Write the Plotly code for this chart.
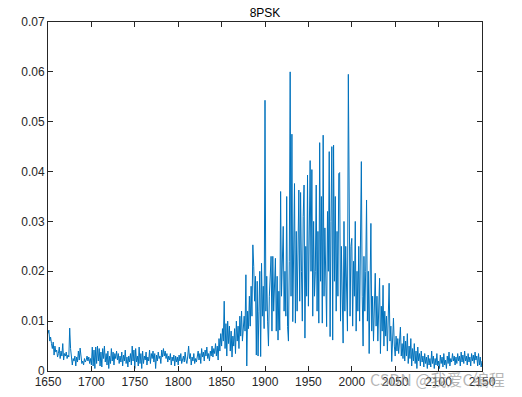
import plotly.graph_objects as go

x_values = list(range(1650, 2151))

y_values = [
    # 1650-1659
    0.0075, 0.0082, 0.0060, 0.0068, 0.0055, 0.0045, 0.0058, 0.0032, 0.0050, 0.0038,
    # 1660
    0.0042, 0.0028, 0.0035, 0.0048, 0.0025, 0.0040, 0.0030, 0.0055, 0.0022, 0.0035,
    # 1670
    0.0030, 0.0038, 0.0025, 0.0032, 0.0028, 0.0086, 0.0045, 0.0030, 0.0012, 0.0025,
    # 1680
    0.0020, 0.0030, 0.0010, 0.0028, 0.0018, 0.0040, 0.0022, 0.0046, 0.0025, 0.0015,
    # 1690
    0.0020, 0.0012, 0.0025, 0.0018, 0.0022, 0.0030, 0.0020, 0.0028, 0.0015, 0.0025,
    # 1700
    0.0012, 0.0048, 0.0010, 0.0042, 0.0005, 0.0048, 0.0015, 0.0050, 0.0020, 0.0045,
    # 1710
    0.0010, 0.0038, 0.0008, 0.0045, 0.0025, 0.0050, 0.0018, 0.0035, 0.0012, 0.0040,
    # 1720
    0.0005, 0.0030, 0.0015, 0.0045, 0.0020, 0.0038, 0.0012, 0.0035, 0.0025, 0.0040,
    # 1730
    0.0022, 0.0035, 0.0015, 0.0030, 0.0018, 0.0038, 0.0010, 0.0032, 0.0020, 0.0042,
    # 1740
    0.0015, 0.0028, 0.0008, 0.0030, 0.0018, 0.0035, 0.0012, 0.0050, 0.0020, 0.0042,
    # 1750
    0.0005, 0.0045, 0.0018, 0.0030, 0.0010, 0.0048, 0.0015, 0.0035, 0.0005, 0.0040,
    # 1760
    0.0015, 0.0030, 0.0022, 0.0038, 0.0012, 0.0028, 0.0020, 0.0042, 0.0015, 0.0035,
    # 1770
    0.0025, 0.0040, 0.0018, 0.0035, 0.0005, 0.0032, 0.0020, 0.0038, 0.0025, 0.0030,
    # 1780
    0.0015, 0.0042, 0.0028, 0.0045, 0.0030, 0.0040, 0.0025, 0.0035, 0.0018, 0.0030,
    # 1790
    0.0022, 0.0035, 0.0012, 0.0028, 0.0020, 0.0032, 0.0010, 0.0030, 0.0018, 0.0028,
    # 1800
    0.0012, 0.0032, 0.0020, 0.0035, 0.0015, 0.0025, 0.0030, 0.0018, 0.0038, 0.0022,
    # 1810
    0.0015, 0.0030, 0.0050, 0.0025, 0.0035, 0.0012, 0.0028, 0.0020, 0.0035, 0.0015,
    # 1820
    0.0025, 0.0018, 0.0030, 0.0040, 0.0022, 0.0035, 0.0015, 0.0045, 0.0028, 0.0038,
    # 1830
    0.0020, 0.0042, 0.0030, 0.0048, 0.0025, 0.0035, 0.0020, 0.0040, 0.0030, 0.0050,
    # 1840
    0.0028, 0.0045, 0.0035, 0.0055, 0.0030, 0.0050, 0.0022, 0.0065, 0.0040, 0.0075,
    # 1850
    0.0050, 0.0085, 0.0060, 0.0140, 0.0045, 0.0095, 0.0030, 0.0100, 0.0055, 0.0090,
    # 1860
    0.0040, 0.0080, 0.0028, 0.0070, 0.0050, 0.0085, 0.0035, 0.0100, 0.0060, 0.0090,
    # 1870
    0.0045, 0.0110, 0.0070, 0.0120, 0.0060, 0.0095, 0.0110, 0.0080, 0.0193, 0.0010,
    # 1880
    0.0120, 0.0085, 0.0150, 0.0090, 0.0170, 0.0110, 0.0253, 0.0210, 0.0140, 0.0190,
    # 1890
    0.0032, 0.0180, 0.0030, 0.0120, 0.0200, 0.0029, 0.0216, 0.0110, 0.0170, 0.0085,
    # 1900
    0.0543, 0.0120, 0.0190, 0.0100, 0.0050, 0.0150, 0.0210, 0.0230, 0.0080, 0.0230,
    # 1910
    0.0120, 0.0210, 0.0226, 0.0080, 0.0190, 0.0062, 0.0160, 0.0082, 0.0360, 0.0150,
    # 1920
    0.0250, 0.0290, 0.0120, 0.0200, 0.0110, 0.0350, 0.0089, 0.0060, 0.0220, 0.0600,
    # 1930
    0.0150, 0.0475, 0.0099, 0.0300, 0.0376, 0.0096, 0.0280, 0.0120, 0.0250, 0.0363,
    # 1940
    0.0140, 0.0358, 0.0200, 0.0100, 0.0310, 0.0373, 0.0066, 0.0250, 0.0150, 0.0393,
    # 1950
    0.0130, 0.0280, 0.0422, 0.0200, 0.0404, 0.0110, 0.0300, 0.0150, 0.0200, 0.0373,
    # 1960
    0.0120, 0.0280, 0.0096, 0.0458, 0.0180, 0.0350, 0.0096, 0.0473, 0.0150, 0.0287,
    # 1970
    0.0140, 0.0089, 0.0320, 0.0200, 0.0440, 0.0069, 0.0300, 0.0450, 0.0062, 0.0453,
    # 1980
    0.0180, 0.0350, 0.0120, 0.0280, 0.0150, 0.0396, 0.0398, 0.0100, 0.0250, 0.0130,
    # 1990
    0.0056, 0.0300, 0.0120, 0.0250, 0.0180, 0.0080, 0.0595, 0.0200, 0.0110, 0.0250,
    # 2000
    0.0266, 0.0090, 0.0220, 0.0150, 0.0300, 0.0080, 0.0200, 0.0120, 0.0250, 0.0100,
    # 2010
    0.0280, 0.0420, 0.0150, 0.0050, 0.0230, 0.0120, 0.0200, 0.0343, 0.0100, 0.0200,
    # 2020
    0.0035, 0.0180, 0.0296, 0.0080, 0.0150, 0.0060, 0.0140, 0.0196, 0.0090, 0.0150,
    # 2030
    0.0060, 0.0120, 0.0186, 0.0035, 0.0130, 0.0080, 0.0172, 0.0050, 0.0120, 0.0070,
    # 2040
    0.0110, 0.0040, 0.0150, 0.0176, 0.0060, 0.0090, 0.0019, 0.0080, 0.0106, 0.0050,
    # 2050
    0.0030, 0.0070, 0.0040, 0.0065, 0.0035, 0.0060, 0.0088, 0.0030, 0.0055, 0.0025,
    # 2060
    0.0070, 0.0020, 0.0060, 0.0030, 0.0075, 0.0015, 0.0050, 0.0025, 0.0065, 0.0010,
    # 2070
    0.0045, 0.0020, 0.0055, 0.0015, 0.0040, 0.0005, 0.0048, 0.0020, 0.0035, 0.0010,
    # 2080
    0.0040, 0.0018, 0.0030, 0.0008, 0.0035, 0.0015, 0.0028, 0.0005, 0.0032, 0.0012,
    # 2090
    0.0025, 0.0008, 0.0040, 0.0015, 0.0030, 0.0005, 0.0025, 0.0012, 0.0035, 0.0010,
    # 2100
    0.0020, 0.0005, 0.0032, 0.0015, 0.0028, 0.0008, 0.0035, 0.0012, 0.0022, 0.0005,
    # 2110
    0.0030, 0.0015, 0.0038, 0.0010, 0.0025, 0.0018, 0.0035, 0.0020, 0.0030, 0.0012,
    # 2120
    0.0028, 0.0015, 0.0035, 0.0020, 0.0030, 0.0010, 0.0038, 0.0018, 0.0032, 0.0015,
    # 2130
    0.0040, 0.0020, 0.0030, 0.0012, 0.0035, 0.0018, 0.0028, 0.0010, 0.0035, 0.0020,
    # 2140
    0.0032, 0.0015, 0.0038, 0.0022, 0.0030, 0.0010, 0.0035, 0.0012, 0.0028, 0.0008,
    # 2150
    0.0020,
]

x_ticks = [1650, 1700, 1750, 1800, 1850, 1900, 1950, 2000, 2050, 2100, 2150]
y_ticks = [0, 0.01, 0.02, 0.03, 0.04, 0.05, 0.06, 0.07]
y_tick_labels = ["0", "0.01", "0.02", "0.03", "0.04", "0.05", "0.06", "0.07"]

title_text = "8PSK"
watermark_text = "CSDN @我爱C编程"

axis_color = "#262626"
font_family = "Liberation Sans, Arial, sans-serif"

fig = go.Figure()
fig.add_trace(go.Scatter(
    x=x_values, y=y_values, mode="lines",
    line=dict(color="#0072BD", width=1),
    showlegend=False, hoverinfo="skip",
))

axis_common = dict(
    showline=True, linecolor=axis_color, linewidth=1,
    mirror="ticks", ticks="inside", ticklen=5, tickcolor=axis_color,
    showgrid=False, zeroline=False, automargin=False,
    tickfont=dict(family=font_family, size=12, color=axis_color),
)

# page body has an 8px margin, so the figure is 8px smaller than the window
fig.update_layout(
    width=514, height=389,
    margin=dict(l=40, r=40, t=14, b=26, autoexpand=False),
    paper_bgcolor="white", plot_bgcolor="white",
    title=dict(text=title_text, x=0.5, xref="paper", xanchor="center",
               y=1, yref="container", yanchor="top", pad=dict(t=1),
               font=dict(family=font_family, size=12, color="black")),
    xaxis=dict(range=[1650, 2150], tickvals=x_ticks, **axis_common),
    yaxis=dict(range=[0, 0.07], tickvals=y_ticks, ticktext=y_tick_labels, **axis_common),
    annotations=[dict(
        text=watermark_text, xref="paper", yref="paper",
        x=1.058, y=-0.023, xanchor="right", yanchor="middle", showarrow=False,
        font=dict(family="Noto Sans CJK SC, sans-serif", size=16, color="rgba(150,150,150,0.7)"),
    )],
)

fig.write_html("out.html")
